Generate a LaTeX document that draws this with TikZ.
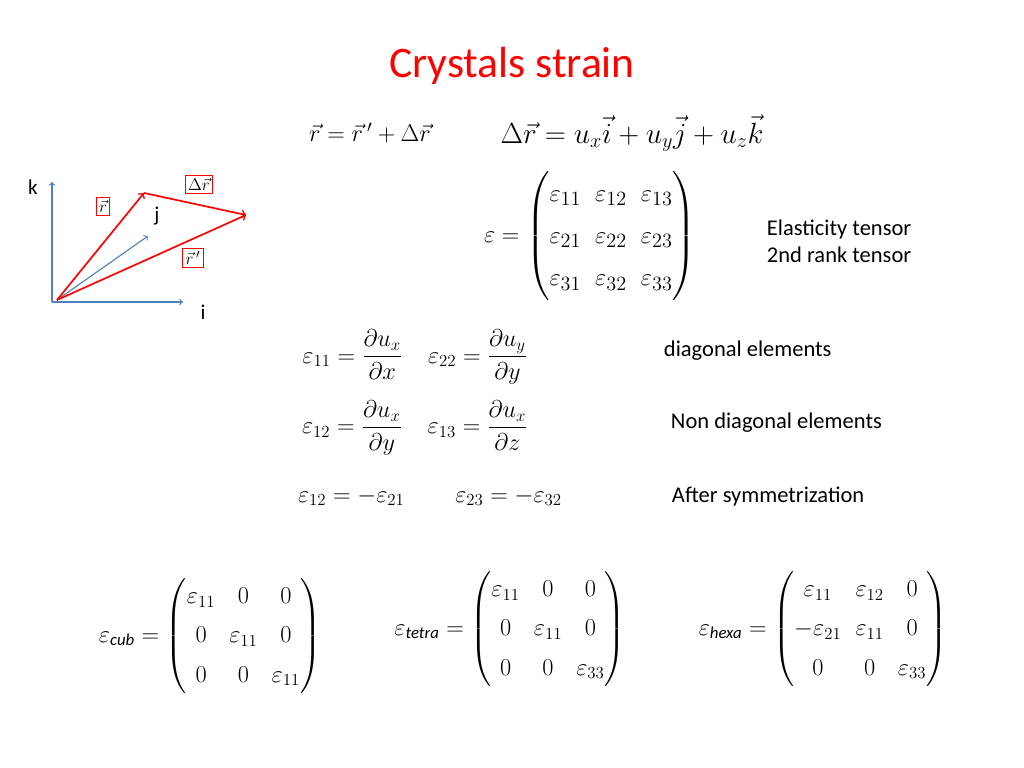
\documentclass[tikz,border=0pt]{standalone}
\usepackage{amsmath}
\usepackage{amssymb}
\usepackage{fontspec}
\setmainfont{Carlito}
\usetikzlibrary{positioning}
\definecolor{titlered}{RGB}{255,0,0}
\definecolor{axisblue}{RGB}{79,129,189}
\tikzset{
  txt/.style={font=\fontsize{16}{19}\selectfont, anchor=west},
  eq/.style={font=\fontsize{18}{22}\selectfont},
  mat/.style={font=\fontsize{17}{24}\selectfont},
  vbox/.style={draw=titlered, inner sep=2pt, font=\fontsize{13}{15}\selectfont},
  axis/.style={draw=axisblue, thick, ->},
  vec/.style={draw=titlered, very thick, ->}
}
\begin{document}
\begin{tikzpicture}[x=0.025cm, y=-0.025cm]
  \useasboundingbox (0,0) rectangle (1024,768);
  % title
  \node[text=titlered, font=\fontsize{31}{36}\selectfont] (title) at (512,66) {Crystals strain};
  % vector sketch
  \coordinate (o) at (57,300);
  \coordinate (k) at (52,182);
  \coordinate (i) at (183,302);
  \coordinate (j) at (148,236);
  \coordinate (tip) at (144,193);
  \coordinate (tipp) at (246,215);
  \draw[axis] (52,302) -- (k);
  \draw[axis] (52,302) -- (i);
  \draw[axis] (o) -- (j);
  \draw[vec] (o) -- (tip);
  \draw[vec] (tip) -- (tipp);
  \draw[vec] (o) -- (tipp);
  \node[font=\fontsize{15}{17}\selectfont] (klab) at (33,187) {k};
  \node[font=\fontsize{15}{17}\selectfont] (ilab) at (203,312) {i};
  \node[font=\fontsize{15}{17}\selectfont] (jlab) at (157,216) {j};
  \node[vbox] (rbox) at (103,206) {$\vec r$};
  \node[vbox] (drbox) at (199,184) {$\Delta\vec r$};
  \node[vbox] (rpbox) at (193,258) {$\vec r\,'$};
  % equations
  \node[eq] (req) at (370,133) {$\vec r=\vec r\,'+\Delta\vec r$};
  \node[eq, font=\fontsize{21}{24}\selectfont] (dreq) at (632,133) {$\Delta\vec r=u_x\vec i+u_y\vec j+u_z\vec k$};
  \node[mat, font=\fontsize{19}{26}\selectfont] (emat) at (590,236) {$\varepsilon=\begin{pmatrix}\varepsilon_{11}&\varepsilon_{12}&\varepsilon_{13}\\[4pt]\varepsilon_{21}&\varepsilon_{22}&\varepsilon_{23}\\[4pt]\varepsilon_{31}&\varepsilon_{32}&\varepsilon_{33}\end{pmatrix}$};
  \node[txt, align=left] (etxt) at (762,241) {Elasticity tensor\\2nd rank tensor};
  \node[eq] (diag) at (415,357) {$\varepsilon_{11}=\dfrac{\partial u_x}{\partial x}\quad\varepsilon_{22}=\dfrac{\partial u_y}{\partial y}$};
  \node[txt] (dtxt) at (659,351) {diagonal elements};
  \node[eq] (ndiag) at (415,428) {$\varepsilon_{12}=\dfrac{\partial u_x}{\partial y}\quad\varepsilon_{13}=\dfrac{\partial u_x}{\partial z}$};
  \node[txt] (ntxt) at (666,423) {Non diagonal elements};
  \node[eq] (sym) at (430,497) {$\varepsilon_{12}=-\varepsilon_{21}\qquad\varepsilon_{23}=-\varepsilon_{32}$};
  \node[txt] (stxt) at (667,497) {After symmetrization};
  % symmetric forms
  \node[mat] (cub) at (210,636) {$\varepsilon_{\text{\itshape cub}}=\begin{pmatrix}\varepsilon_{11}&0&0\\[4pt]0&\varepsilon_{11}&0\\[4pt]0&0&\varepsilon_{11}\end{pmatrix}$};
  \node[mat] (tetra) at (510,629) {$\varepsilon_{\text{\itshape tetra}}=\begin{pmatrix}\varepsilon_{11}&0&0\\[4pt]0&\varepsilon_{11}&0\\[4pt]0&0&\varepsilon_{33}\end{pmatrix}$};
  \node[mat] (hexa) at (823,629) {$\varepsilon_{\text{\itshape hexa}}=\begin{pmatrix}\varepsilon_{11}&\varepsilon_{12}&0\\[4pt]-\varepsilon_{21}&\varepsilon_{11}&0\\[4pt]0&0&\varepsilon_{33}\end{pmatrix}$};
\end{tikzpicture}
\end{document}
